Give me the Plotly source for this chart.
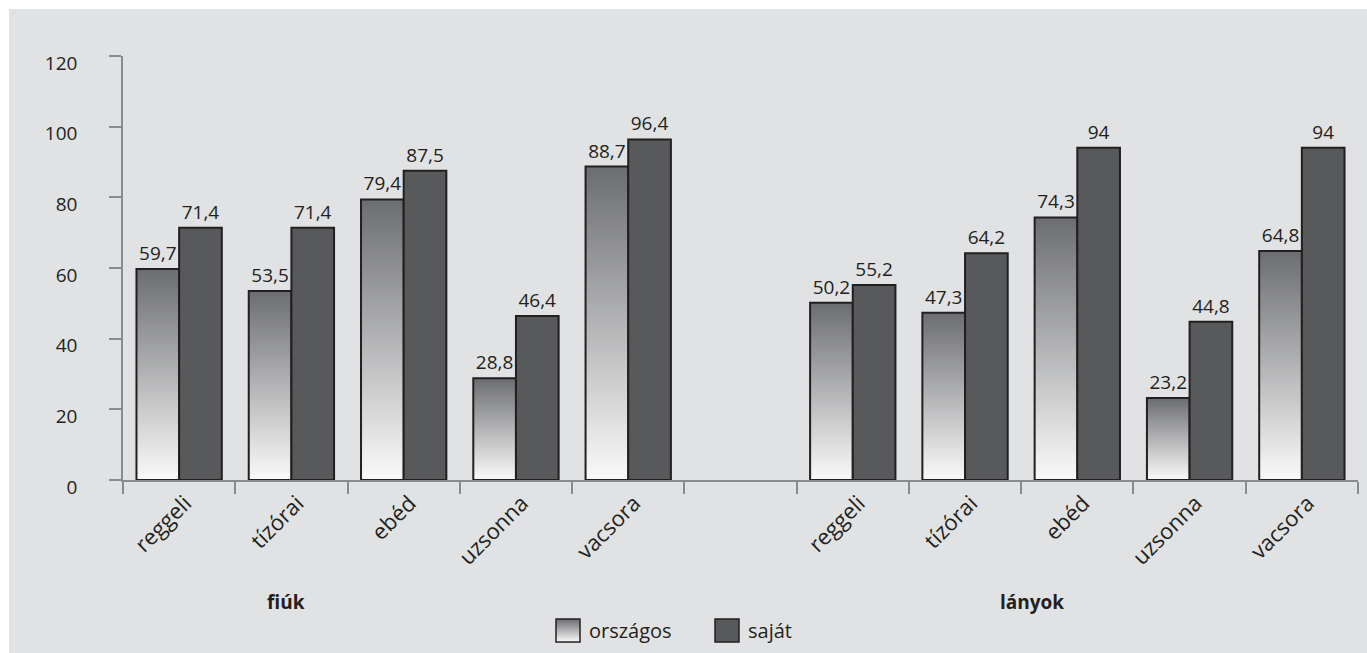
import plotly.graph_objects as go

# ---- data ----
meals = ["reggeli", "tízórai", "ebéd", "uzsonna", "vacsora"]
groups = ["fiúk", "lányok"]
orszagos_fiuk = [59.7, 53.5, 79.4, 28.8, 88.7]
sajat_fiuk = [71.4, 71.4, 87.5, 46.4, 96.4]
orszagos_lanyok = [50.2, 47.3, 74.3, 23.2, 64.8]
sajat_lanyok = [55.2, 64.2, 94.0, 44.8, 94.0]
series_names = ["országos", "saját"]
y_ticks = [0, 20, 40, 60, 80, 100, 120]

# ---- positions (one empty category between the two groups) ----
n = len(meals)
xpos = list(range(n)) + list(range(n + 1, 2 * n + 1))
xlabels = meals + meals
orsz = orszagos_fiuk + orszagos_lanyok
saj = sajat_fiuk + sajat_lanyok

def fmt(v):
    return f"{v:g}".replace(".", ",")

FONT = "Open Sans"
TXT = "#231f20"
AXIS = "#8a8b8d"
BG = "#e1e2e3"
DARK = "#58595b"
TOP = (108, 109, 112)
BOT = (250, 250, 250)
BW = 0.38

fig = go.Figure()

# gradient fill of "országos" bars: overlapping slices, each running to the bar top
N = 64
for i in range(N):
    t = (i + 0.5) / N
    c = tuple(round(BOT[k] + (TOP[k] - BOT[k]) * t) for k in range(3))
    fig.add_trace(go.Bar(
        x=xpos, y=[v * (1 - i / N) for v in orsz], base=[v * i / N for v in orsz],
        offset=-BW, width=BW,
        marker=dict(color=f"rgb{c}", line=dict(width=0)),
        hoverinfo="skip", showlegend=False,
    ))

# outline + labels of "országos"
fig.add_trace(go.Bar(
    x=xpos, y=orsz, name=series_names[0], offset=-BW, width=BW,
    marker=dict(color="rgba(0,0,0,0)", line=dict(color=TXT, width=2)),
    text=[fmt(v) for v in orsz], textposition="outside",
    textfont=dict(family=FONT, size=19, color=TXT), cliponaxis=False,
    showlegend=False,
))
# "saját"
fig.add_trace(go.Bar(
    x=xpos, y=saj, name=series_names[1], offset=0, width=BW,
    marker=dict(color=DARK, line=dict(color=TXT, width=2)),
    text=[fmt(v) for v in saj], textposition="outside",
    textfont=dict(family=FONT, size=19, color=TXT), cliponaxis=False,
    showlegend=False,
))

L, R, T, B = 123, 9, 56, 173
W, H = 1367, 653
pw, ph = W - L - R, H - T - B

def px(x):
    return (x - L) / pw

def py(y):
    return (H - B - y) / ph

shapes = [dict(type="rect", xref="paper", yref="paper", layer="below",
               x0=px(9), x1=px(W + 5), y0=py(H + 5), y1=py(9),
               fillcolor=BG, line=dict(width=0))]

# legend swatches (gradient built from overlapping slices)
sw = [(556, 580), (715, 739)]
y0s, y1s = 619, 642
M = 24
for j in range(M):
    t = (j + 0.5) / M
    c = tuple(round(BOT[k] + (TOP[k] - BOT[k]) * t) for k in range(3))
    yb = y1s - (y1s - y0s) * j / M
    shapes.append(dict(type="rect", xref="paper", yref="paper",
                       x0=px(sw[0][0]), x1=px(sw[0][1]), y0=py(yb), y1=py(y0s),
                       fillcolor=f"rgb{c}", line=dict(width=0)))
shapes.append(dict(type="rect", xref="paper", yref="paper",
                   x0=px(sw[0][0]), x1=px(sw[0][1]), y0=py(y1s), y1=py(y0s),
                   fillcolor="rgba(0,0,0,0)", line=dict(color=TXT, width=1.5)))
shapes.append(dict(type="rect", xref="paper", yref="paper",
                   x0=px(sw[1][0]), x1=px(sw[1][1]), y0=py(y1s), y1=py(y0s),
                   fillcolor=DARK, line=dict(color=TXT, width=1.5)))

annotations = [
    dict(text=f"<b>{groups[0]}</b>", xref="paper", yref="paper", x=px(286), y=py(602),
         xanchor="center", yanchor="middle",
         showarrow=False, font=dict(family=FONT, size=19, color=TXT)),
    dict(text=f"<b>{groups[1]}</b>", xref="paper", yref="paper", x=px(1032), y=py(602),
         xanchor="center", yanchor="middle",
         showarrow=False, font=dict(family=FONT, size=19, color=TXT)),
    dict(text=series_names[0], xref="paper", yref="paper", x=px(587), y=py(630),
         xanchor="left", yanchor="middle", showarrow=False,
         font=dict(family=FONT, size=20, color=TXT)),
    dict(text=series_names[1], xref="paper", yref="paper", x=px(746), y=py(630),
         xanchor="left", yanchor="middle", showarrow=False,
         font=dict(family=FONT, size=20, color=TXT)),
]

fig.update_layout(
    width=W, height=H, autosize=False,
    margin=dict(l=L, r=R, t=T, b=B, pad=0),
    paper_bgcolor="white", plot_bgcolor="rgba(0,0,0,0)",
    barmode="overlay", showlegend=False,
    font=dict(family=FONT, color=TXT, size=19),
    shapes=shapes, annotations=annotations,
    xaxis=dict(
        range=[-0.5, 2 * n + 0.5], tickmode="array", tickvals=xpos, ticktext=xlabels,
        tickangle=-45, ticks="", showgrid=False, zeroline=False,
        showline=True, linecolor=AXIS, linewidth=1.5,
        tickfont=dict(family=FONT, size=22, color=TXT),
        ticklabelstandoff=0, ticklabelshift=6,
        minor=dict(tick0=0.5, dtick=1, ticks="outside", ticklen=12,
                   tickcolor=AXIS, tickwidth=1.5, showgrid=False),
    ),
    yaxis=dict(
        range=[0, 120], tickmode="array", tickvals=y_ticks,
        ticks="outside", ticklen=12, tickcolor=AXIS, tickwidth=1.5,
        showline=True, linecolor=AXIS, linewidth=1.5,
        showgrid=False, zeroline=False,
        tickfont=dict(family=FONT, size=19, color=TXT),
        ticklabelstandoff=28, ticklabelshift=7,
    ),
)

fig.write_html("out.html")
